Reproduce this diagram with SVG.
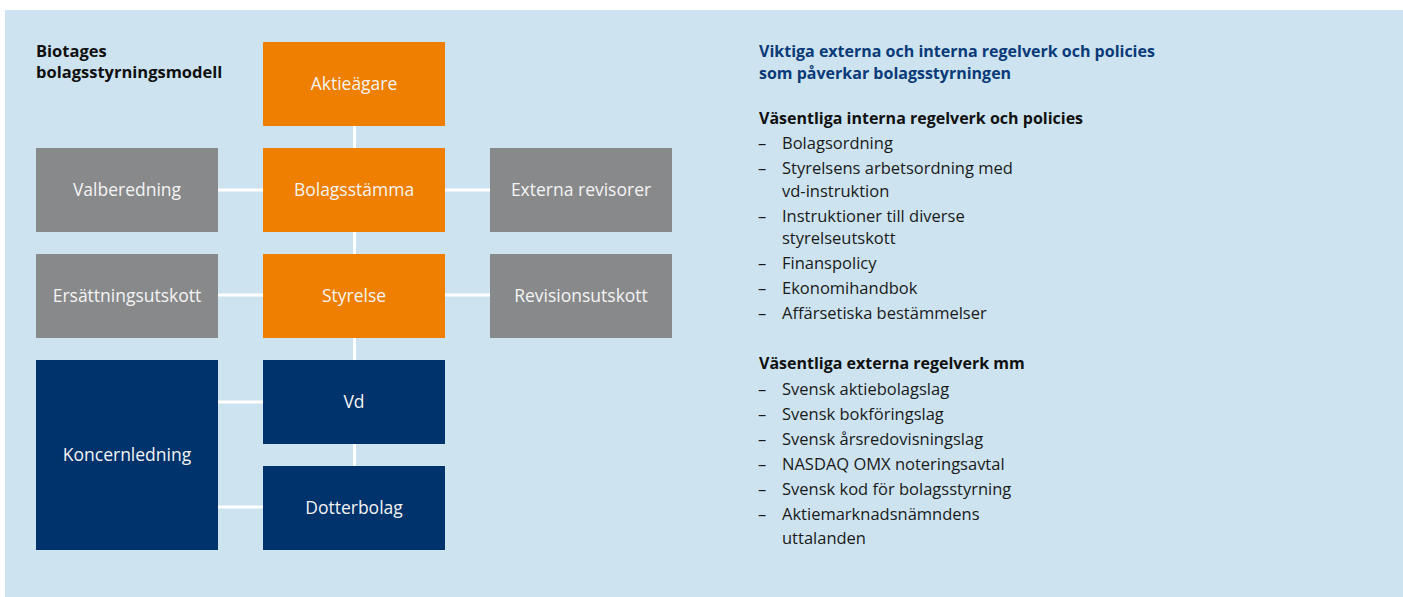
<svg xmlns="http://www.w3.org/2000/svg" width="1403" height="597" viewBox="0 0 1403 597">
<style>
.bg{fill:#cde4f0}
.or{fill:#ee7f00}
.gr{fill:#88898b}
.nv{fill:#00326b}
.lbl{font-family:"Open Sans","Liberation Sans",sans-serif;font-size:17.5px;fill:#f4f4f4;text-anchor:middle}
.conn{stroke:#ffffff;stroke-width:3;fill:none}
.title{font-family:"Open Sans","Liberation Sans",sans-serif;font-size:16.5px;font-weight:bold;fill:#111111}
.head{font-family:"Open Sans","Liberation Sans",sans-serif;font-size:16px;font-weight:bold;fill:#0a3a78}
.sub{font-family:"Open Sans","Liberation Sans",sans-serif;font-size:16px;font-weight:bold;fill:#111111}
.item{font-family:"Open Sans","Liberation Sans",sans-serif;font-size:16.5px;fill:#1a1a1a}
</style>
<rect class="bg" x="5" y="10" width="1398" height="587"/>
<g id="connectors">
<line class="conn" x1="354.5" y1="126" x2="354.5" y2="466"/>
<line class="conn" x1="218" y1="190" x2="263" y2="190"/>
<line class="conn" x1="445" y1="190" x2="490" y2="190"/>
<line class="conn" x1="218" y1="295" x2="263" y2="295"/>
<line class="conn" x1="445" y1="295" x2="490" y2="295"/>
<line class="conn" x1="218" y1="402" x2="263" y2="402"/>
<line class="conn" x1="218" y1="507" x2="263" y2="507"/>
</g>
<g id="title"><text class="title" x="36" y="57">Biotages</text><text class="title" x="36" y="78">bolagsstyrningsmodell</text></g>
<g id="aktieagare"><rect class="or" x="263" y="42" width="182" height="84"/><text class="lbl" x="354" y="90">Aktieägare</text></g>
<g id="bolagsstamma"><rect class="or" x="263" y="148" width="182" height="84"/><text class="lbl" x="354" y="196">Bolagsstämma</text></g>
<g id="valberedning"><rect class="gr" x="36" y="148" width="182" height="84"/><text class="lbl" x="127" y="196">Valberedning</text></g>
<g id="externa-revisorer"><rect class="gr" x="490" y="148" width="182" height="84"/><text class="lbl" x="581" y="196">Externa revisorer</text></g>
<g id="styrelse"><rect class="or" x="263" y="254" width="182" height="84"/><text class="lbl" x="354" y="302">Styrelse</text></g>
<g id="ersattningsutskott"><rect class="gr" x="36" y="254" width="182" height="84"/><text class="lbl" x="127" y="302">Ersättningsutskott</text></g>
<g id="revisionsutskott"><rect class="gr" x="490" y="254" width="182" height="84"/><text class="lbl" x="581" y="302">Revisionsutskott</text></g>
<g id="vd"><rect class="nv" x="263" y="360" width="182" height="84"/><text class="lbl" x="354" y="408">Vd</text></g>
<g id="dotterbolag"><rect class="nv" x="263" y="466" width="182" height="84"/><text class="lbl" x="354" y="514">Dotterbolag</text></g>
<g id="koncernledning"><rect class="nv" x="36" y="360" width="182" height="190"/><text class="lbl" x="127" y="461">Koncernledning</text></g>
<g id="regelverk">
<text class="head" x="759" y="57">Viktiga externa och interna regelverk och policies</text>
<text class="head" x="759" y="79">som påverkar bolagsstyrningen</text>
<text class="sub" x="759" y="124">Väsentliga interna regelverk och policies</text>
<text class="item" x="758" y="149">–</text><text class="item" x="782" y="149">Bolagsordning</text>
<text class="item" x="758" y="174">–</text><text class="item" x="782" y="174">Styrelsens arbetsordning med</text>
<text class="item" x="782" y="197">vd-instruktion</text>
<text class="item" x="758" y="222">–</text><text class="item" x="782" y="222">Instruktioner till diverse</text>
<text class="item" x="782" y="244">styrelseutskott</text>
<text class="item" x="758" y="269">–</text><text class="item" x="782" y="269">Finanspolicy</text>
<text class="item" x="758" y="294">–</text><text class="item" x="782" y="294">Ekonomihandbok</text>
<text class="item" x="758" y="319">–</text><text class="item" x="782" y="319">Affärsetiska bestämmelser</text>
<text class="sub" x="759" y="369">Väsentliga externa regelverk mm</text>
<text class="item" x="758" y="395">–</text><text class="item" x="782" y="395">Svensk aktiebolagslag</text>
<text class="item" x="758" y="420">–</text><text class="item" x="782" y="420">Svensk bokföringslag</text>
<text class="item" x="758" y="445">–</text><text class="item" x="782" y="445">Svensk årsredovisningslag</text>
<text class="item" x="758" y="470">–</text><text class="item" x="782" y="470">NASDAQ OMX noteringsavtal</text>
<text class="item" x="758" y="495">–</text><text class="item" x="782" y="495">Svensk kod för bolagsstyrning</text>
<text class="item" x="758" y="520">–</text><text class="item" x="782" y="520">Aktiemarknadsnämndens</text>
<text class="item" x="782" y="544">uttalanden</text>
</g>
</svg>
